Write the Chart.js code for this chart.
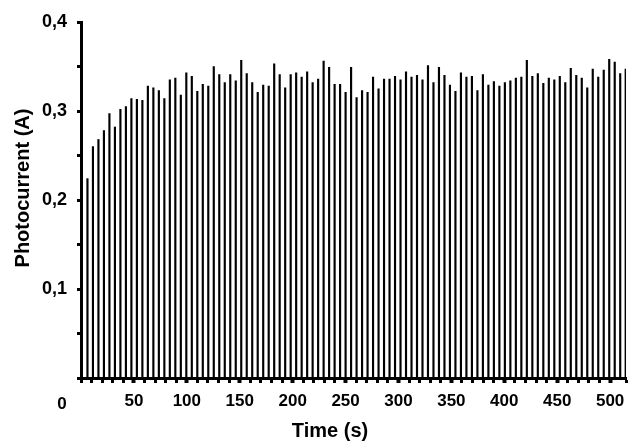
<!DOCTYPE html>
<html>
<head>
<meta charset="utf-8">
<script src="https://cdn.jsdelivr.net/npm/chart.js@4.4.1/dist/chart.umd.min.js"></script>
<style>
	html, body { margin: 0; padding: 0; background: #fff; }
</style>
</head>
<body>
<canvas id="fotoChart" width="634" height="444"></canvas>
<script>
// pico de cada pulso de luz (A), de izquierda a derecha
var picos = [
	0.224, 0.260, 0.268, 0.278, 0.297, 0.282, 0.302, 0.305, 0.314, 0.313, 0.312, 0.328, 0.326, 0.323, 0.314, 0.335,
	0.337, 0.318, 0.343, 0.339, 0.322, 0.330, 0.328, 0.350, 0.341, 0.332, 0.341, 0.334, 0.357, 0.342, 0.332, 0.321,
	0.329, 0.328, 0.353, 0.341, 0.326, 0.341, 0.343, 0.338, 0.344, 0.332, 0.336, 0.356, 0.349, 0.330, 0.330, 0.321,
	0.349, 0.315, 0.323, 0.321, 0.338, 0.325, 0.336, 0.336, 0.339, 0.335, 0.344, 0.338, 0.340, 0.335, 0.351, 0.332,
	0.349, 0.340, 0.329, 0.322, 0.343, 0.338, 0.339, 0.323, 0.341, 0.329, 0.333, 0.328, 0.332, 0.334, 0.337, 0.338,
	0.357, 0.339, 0.342, 0.331, 0.337, 0.335, 0.339, 0.332, 0.348, 0.340, 0.337, 0.326, 0.347, 0.338, 0.346, 0.358,
	0.355, 0.342, 0.347
];
var inicioPulso = 6.1;    // s, primer pulso
var periodoPulso = 5.19;  // s entre pulsos

var rotulosY = [0.1, 0.2, 0.3, 0.4];
var rotulosX = [50, 100, 150, 200, 250, 300, 350, 400, 450, 500];
var tituloX = 'Time (s)';
var tituloY = 'Photocurrent (A)';
var rotuloOrigen = '0';

var fuente = '"Liberation Sans", Arial, sans-serif';

var puntos = picos.map(function (v, i) {
	return { x: inicioPulso + i * periodoPulso, y: v };
});

function esRotulo(lista, valor) {
	return lista.some(function (r) { return Math.abs(r - valor) < 1e-6; });
}

// titulos de ejes y el "0" del origen, puestos respecto al area del grafico
var textosEjes = {
	id: 'textosEjes',
	afterDraw: function (chart) {
		var ctx = chart.ctx;
		var area = chart.chartArea;
		ctx.save();
		ctx.fillStyle = '#000';
		ctx.textAlign = 'center';
		ctx.textBaseline = 'middle';
		ctx.font = 'bold 17px ' + fuente;
		ctx.fillText(rotuloOrigen, area.left - 19, area.bottom + 26);
		ctx.font = 'bold 20px ' + fuente;
		ctx.fillText(tituloX, area.left + 249, area.bottom + 53);
		ctx.translate(area.left - 58, area.top + 166);
		ctx.rotate(-Math.PI / 2);
		ctx.fillText(tituloY, 0, 0);
		ctx.restore();
	}
};

var ctx = document.getElementById('fotoChart').getContext('2d');

var fotoChart = new Chart(ctx, {
	type: 'bar',
	data: {
		datasets: [{
			label: 'Photocurrent',
			data: puntos,
			backgroundColor: '#000',
			borderWidth: 0,
			barThickness: 1.5
		}]
	},
	options: {
		responsive: false,
		animation: false,
		layout: {
			padding: { top: 22, right: 2, left: 0, bottom: 0 }
		},
		plugins: {
			legend: { display: false },
			tooltip: { enabled: false }
		},
		scales: {
			x: {
				type: 'linear',
				min: 0,
				max: 515,
				offset: false,
				border: { display: true, color: '#000', width: 3 },
				grid: {
					offset: false,
					drawOnChartArea: false,
					drawTicks: true,
					tickLength: 5,
					tickColor: '#000',
					tickWidth: function (c) {
						return (c.tick && esRotulo(rotulosX, c.tick.value)) ? 4 : 3;
					}
				},
				ticks: {
					stepSize: 10,
					autoSkip: false,
					maxRotation: 0,
					padding: 8,
					color: '#000',
					font: { family: fuente, size: 17, weight: 'bold' },
					callback: function (value) {
						return esRotulo(rotulosX, value) ? String(value) : '';
					}
				},
				afterFit: function (scale) { scale.height = 66; }
			},
			y: {
				min: 0,
				max: 0.4,
				border: { display: true, color: '#000', width: 3 },
				grid: {
					drawOnChartArea: false,
					drawTicks: true,
					tickLength: 4,
					tickColor: '#000',
					tickWidth: 3
				},
				ticks: {
					stepSize: 0.05,
					autoSkip: false,
					padding: 10,
					color: '#000',
					font: { family: fuente, size: 18, weight: 'bold' },
					callback: function (value) {
						return esRotulo(rotulosY, value) ? value.toFixed(1).replace('.', ',') : '';
					}
				},
				afterFit: function (scale) { scale.width = 81; }
			}
		}
	},
	plugins: [textosEjes]
});
</script>
</body>
</html>
